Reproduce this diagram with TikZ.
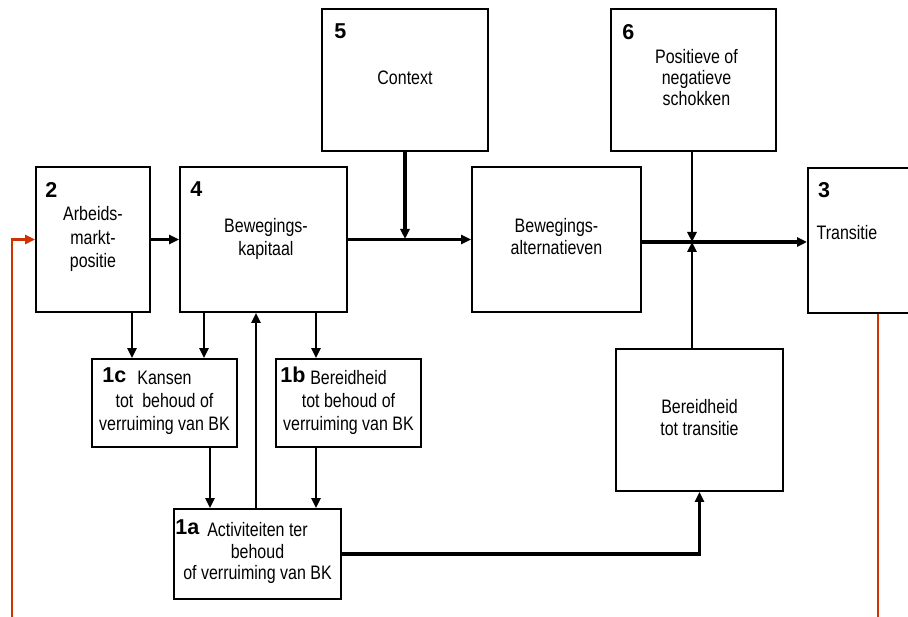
\documentclass[tikz,border=0pt]{standalone}
\usepackage{fontspec}
\setmainfont{Liberation Sans}[FakeStretch=0.82]
\newfontfamily\numfont{Liberation Sans}
\usetikzlibrary{arrows.meta}
\definecolor{redline}{RGB}{204,51,0}
\newcommand\boxtext[3]{\raisebox{#1}{\fontsize{19.5}{#2}\selectfont\begin{tabular}{@{}c@{}}#3\end{tabular}}}
\begin{document}
\begin{tikzpicture}[x=1pt,y=-1pt,
  box/.style={draw, line width=1.8pt, rectangle, inner sep=0pt, align=center,
    font=\fontsize{19.5}{23}\selectfont},
  num/.style={anchor=base west, inner sep=0pt,
    font=\numfont\bfseries\fontsize{21.5}{24}\selectfont},
  tip/.style={-{Triangle[length=10pt,width=9pt]}},
  arr/.style={tip, line width=2.5pt},
  thickarr/.style={tip, line width=3.6pt},
  link/.style={line width=2.8pt},
  feedback/.style={draw=redline, line width=2.5pt},
]
\clip (0,0) rectangle (908,617);
\fill[white] (0,0) rectangle (908,617);

% boxes
\node[box, minimum width=114pt, minimum height=145pt] (b2) at (93,239.5)
  {\boxtext{2pt}{23.5}{Arbeids-\\markt-\\positie}};
\node[box, minimum width=167pt, minimum height=145pt] (b4) at (263.5,239.5)
  {\boxtext{0pt}{23}{\hspace*{5pt}Bewegings-\\\hspace*{5pt}kapitaal}};
\node[box, minimum width=166pt, minimum height=142pt] (b5) at (405,80)
  {\boxtext{5pt}{23}{Context}};
\node[box, minimum width=169pt, minimum height=145pt] (bA) at (556.5,239.5)
  {\boxtext{-1pt}{22}{Bewegings-\\alternatieven}};
\node[box, minimum width=165pt, minimum height=142pt] (b6) at (693.5,80)
  {\boxtext{-3pt}{21}{\hspace*{6pt}Positieve of\\\hspace*{6pt}negatieve\\\hspace*{6pt}schokken}};
\node[box, minimum width=200pt, minimum height=145pt, anchor=north west] (b3) at (807,167) {};
\node[inner sep=0pt, font=\fontsize{19.5}{23}\selectfont] (t3) at (847,233) {Transitie};
\node[box, minimum width=167pt, minimum height=142pt] (bT) at (699.5,420)
  {\boxtext{-3pt}{22}{Bereidheid\\tot transitie}};
\node[box, minimum width=145pt, minimum height=88pt] (b1c) at (164.5,403)
  {\boxtext{-2pt}{23}{Kansen\\tot\ \ behoud of\\verruiming van BK}};
\node[box, minimum width=145pt, minimum height=88pt] (b1b) at (348.5,403)
  {\boxtext{0pt}{23}{Bereidheid\\tot behoud of\\verruiming van BK}};
\node[box, minimum width=167pt, minimum height=90pt] (b1a) at (257.5,554)
  {\boxtext{-1pt}{21.5}{Activiteiten ter\\behoud\\of verruiming van BK}};

% numbers
\node[num] (n2) at ([shift={(10pt,-31pt)}]b2.north west) {2};
\node[num] (n4) at ([shift={(11pt,-30pt)}]b4.north west) {4};
\node[num] (n5) at ([shift={(13pt,-30pt)}]b5.north west) {5};
\node[num] (n6) at ([shift={(12pt,-31pt)}]b6.north west) {6};
\node[num] (n3) at ([shift={(11pt,-31pt)}]b3.north west) {3};
\node[num] (n1c) at ([shift={(11pt,-24pt)}]b1c.north west) {1c};
\node[num] (n1b) at ([shift={(5pt,-24pt)}]b1b.north west) {1b};
\node[num] (n1a) at ([shift={(2pt,-26pt)}]b1a.north west) {1a};

% helper coordinates
\coordinate (x132) at (132,0);
\coordinate (x204) at (204,0);
\coordinate (x210) at (210,0);
\coordinate (x256) at (256,0);
\coordinate (x316) at (316,0);
\coordinate (j5) at (405,239);
\coordinate (j6) at (692,242);
\coordinate (rA) at (878,617);
\coordinate (rB) at (12,617);

% main row
\draw[arr] (b2.east) -- (b4.east -| b4.west);
\draw[thickarr] (b4.east) -- (bA.west);
\draw[tip, line width=4.4pt] (b5.south) -- (j5);
\draw[tip, line width=3.8pt] (bA.east |- j6) -- (b3.west |- j6);
\draw[tip, link] (b6.south -| j6) -- (j6);
\draw[tip, link] (bT.north -| j6) -- (j6);

% lower part
\draw[arr] (x132 |- b2.south) -- (x132 |- b1c.north);
\draw[arr] (x204 |- b4.south) -- (x204 |- b1c.north);
\draw[arr] (x316 |- b4.south) -- (x316 |- b1b.north);
\draw[arr] (x256 |- b1a.north) -- (x256 |- b4.south);
\draw[arr] (x210 |- b1c.south) -- (x210 |- b1a.north);
\draw[arr] (x316 |- b1b.south) -- (x316 |- b1a.north);
\draw[tip, line width=3.8pt] (b1a.east) -| (bT.south);

% feedback loop
\draw[feedback] (b3.south -| rA) -- (rA);
\draw[feedback, tip] (rB) |- (b2.west);
\end{tikzpicture}
\end{document}
